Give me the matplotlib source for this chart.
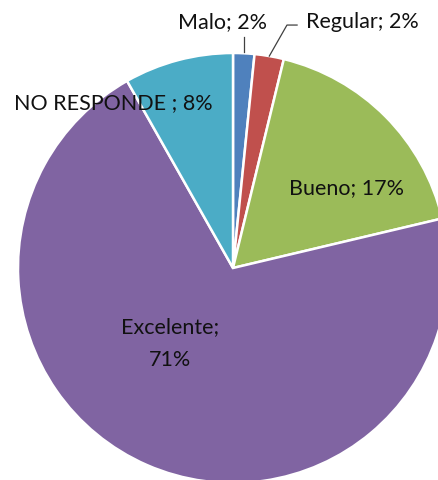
import numpy as np
import matplotlib.pyplot as plt

categorias = ["Malo", "Regular", "Bueno", "Excelente", "NO RESPONDE "]
valores = [1.6, 2.2, 17.5, 70.5, 8.2]
etiquetas_pct = ["2%", "2%", "17%", "71%", "8%"]
colores = ["#4F81BD", "#C0504D", "#9BBB59", "#8064A2", "#4BACC6"]

plt.rcParams['font.family'] = ['Lato', 'DejaVu Sans']

fig = plt.figure(figsize=(4.39, 4.8), dpi=100)
ax = fig.add_axes([0, 0, 1, 1])

wedges, _ = ax.pie(valores, colors=colores, startangle=90, counterclock=False,
                   radius=1.0, wedgeprops=dict(edgecolor='white', linewidth=1.8))

# pie centre at (233, 268) px, radius 215 px
ax.set_xlim(-233 / 215, (439 - 233) / 215)
ax.set_ylim((268 - 480) / 215, 268 / 215)
ax.set_aspect('auto')
ax.axis('off')

fs = 15.5
# posiciones de las etiquetas (unidades de radio)
pos = {
    "Malo": (-0.047, 1.144),
    "Regular": (0.60, 1.144),
    "Bueno": (0.526, 0.372),
    "Excelente": (-0.293, -0.353),
    "NO RESPONDE ": (-0.558, 0.767),
}
for cat, pct in zip(categorias, etiquetas_pct):
    x, y = pos[cat]
    txt = cat + "; " + pct
    if cat == "Excelente":
        txt = cat + ";\n" + pct
    ax.text(x, y, txt, ha='center', va='center', fontsize=fs, color='#111111',
            linespacing=1.8)

# lineas guia para Malo y Regular
def punto_medio(w):
    ang = np.deg2rad((w.theta1 + w.theta2) / 2)
    return np.cos(ang), np.sin(ang)

mx, my = punto_medio(wedges[0])
ax.plot([mx, mx], [my + 0.005, 1.074], color='#404040', lw=0.9)
rx, ry = punto_medio(wedges[1])
ax.plot([rx, 0.251, 0.298], [ry, 1.13, 1.13], color='#404040', lw=0.9)

fig.savefig("out.png", dpi=100)
